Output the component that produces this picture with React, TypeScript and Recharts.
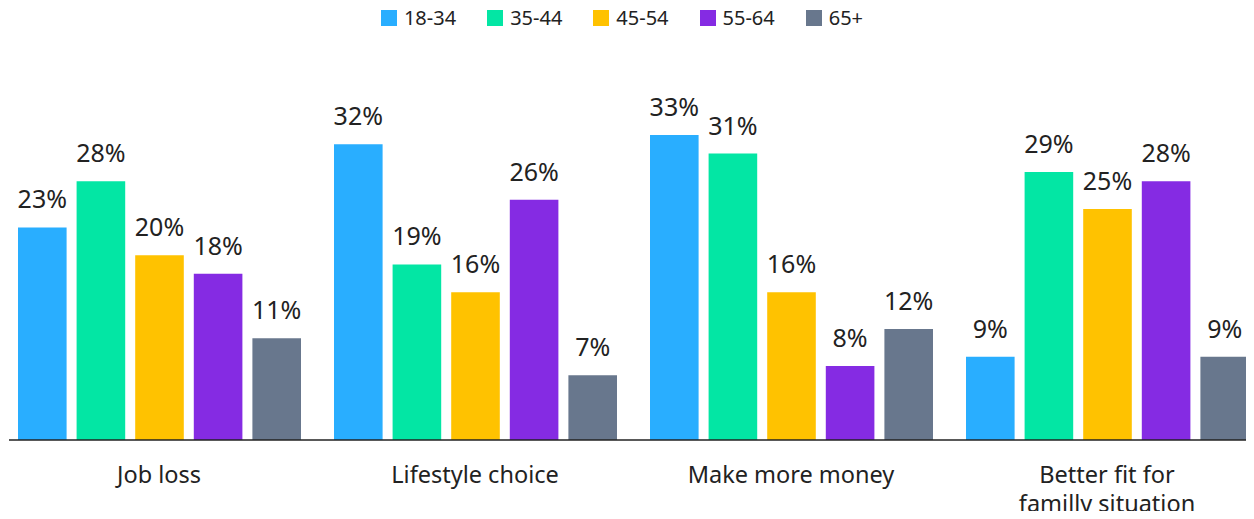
import React from 'react';
import { BarChart, Bar, XAxis, YAxis, LabelList } from 'recharts';

const categories = ['Job loss', 'Lifestyle choice', 'Make more money', 'Better fit for\nfamilly situation'];
const ageGroups = ['18-34', '35-44', '45-54', '55-64', '65+'];
const colors = ['#29AEFF', '#03E6A4', '#FFC200', '#852BE3', '#68778D'];

const age18to34 = [23, 32, 33, 9];
const age35to44 = [28, 19, 31, 29];
const age45to54 = [20, 16, 16, 25];
const age55to64 = [18, 26, 8, 28];
const age65plus = [11, 7, 12, 9];

const seriesValues = [age18to34, age35to44, age45to54, age55to64, age65plus];

const data = categories.map((name, i) => {
  const row: Record<string, string | number> = { name };
  ageGroups.forEach((g, j) => {
    row[g] = seriesValues[j][i];
  });
  return row;
});

const FONT = '"Noto Sans", "Open Sans", sans-serif';
const TEXT = '#222';

const CategoryTick = ({ x, y, payload }: any) => {
  const lines = String(payload.value).split('\n');
  return (
    <text x={x} y={y} textAnchor="middle" fill={TEXT} fontSize={23.5} fontFamily={FONT}>
      {lines.map((l, i) => (
        <tspan key={i} x={x} dy={i === 0 ? 43 : 29}>{l}</tspan>
      ))}
    </text>
  );
};

const LegendRow = () => (
  <div style={{
    position: 'absolute', top: 6, left: -5, width: 1254, display: 'flex',
    justifyContent: 'center', fontFamily: FONT, fontSize: 20, color: TEXT, lineHeight: '24px',
  }}>
    {ageGroups.map((g, i) => (
      <div key={g} style={{ display: 'flex', alignItems: 'center', marginRight: i < ageGroups.length - 1 ? 31 : 0 }}>
        <span style={{ width: 16, height: 16, background: colors[i], display: 'inline-block', marginRight: 7 }} />
        <span>{g}</span>
      </div>
    ))}
  </div>
);

export default function App() {
  return (
    <div style={{ margin: -8, width: 1254, height: 519, overflow: 'hidden', position: 'relative', background: '#fff' }}>
      <LegendRow />
      <BarChart
        width={1265}
        height={519}
        data={data}
        margin={{ top: 116.6, right: 0, left: 9, bottom: 0 }}
        barGap={10}
        barSize={48.6}
      >
        <XAxis
          dataKey="name"
          height={79}
          padding={{ left: -8, right: 0 }}
          tickLine={false}
          tickSize={0}
          tickMargin={0}
          interval={0}
          axisLine={{ stroke: '#222', strokeWidth: 1.5 }}
          tick={<CategoryTick />}
        />
        <YAxis hide domain={[0, 35]} />
        {ageGroups.map((g, i) => (
          <Bar key={g} dataKey={g} fill={colors[i]} isAnimationActive={false}>
            <LabelList
              dataKey={g}
              position="top"
              offset={19}
              formatter={(v: any) => `${v}%`}
              fill={TEXT}
              fontSize={25}
              fontFamily={FONT}
            />
          </Bar>
        ))}
      </BarChart>
    </div>
  );
}
